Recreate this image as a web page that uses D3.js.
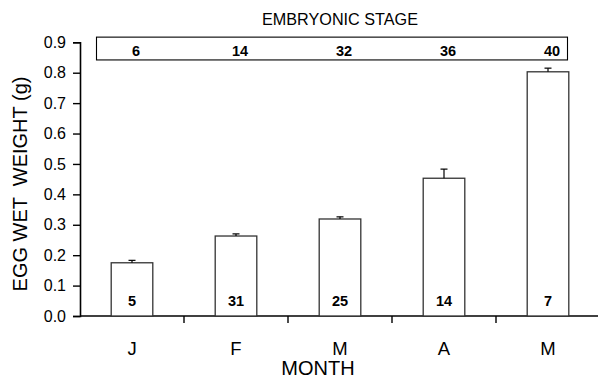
<!DOCTYPE html>
<html>
<head>
<meta charset="utf-8">
<script src="https://cdn.jsdelivr.net/npm/d3@7"></script>
<style>
  html, body { margin: 0; padding: 0; background: #fff; }
  svg { display: block; font-family: Arial, "Liberation Sans", sans-serif; }
</style>
</head>
<body>
<svg id="chart" width="598" height="380"></svg>
<script>
// Egg wet weight by month (mean + SE), sample sizes and embryonic stage
const months = ["J", "F", "M", "A", "M"];
const monthKeys = ["Jan", "Feb", "Mar", "Apr", "May"];
const meanWeight = [0.175, 0.263, 0.319, 0.453, 0.803];
const errUpper = [0.183, 0.270, 0.326, 0.483, 0.815];
const sampleSize = [5, 31, 25, 14, 7];
const embryonicStage = [6, 14, 32, 36, 40];
const yTicks = [0.0, 0.1, 0.2, 0.3, 0.4, 0.5, 0.6, 0.7, 0.8, 0.9];

const svg = d3.select("#chart");

const x = d3.scaleBand().domain(monthKeys).range([80, 600]).paddingInner(0).paddingOuter(0);
const y = d3.scaleLinear().domain([0, 0.9]).range([316, 42.3]);
const barW = x.bandwidth() * 0.4;
const cx = d => x(d) + x.bandwidth() / 2;

// Y axis
const yAxis = svg.append("g")
  .attr("transform", "translate(80,0)")
  .call(d3.axisLeft(y).tickValues(yTicks).tickFormat(d3.format(".1f")).tickSizeOuter(0).tickSize(7).tickPadding(7));
yAxis.select(".domain").attr("stroke", "#000").attr("stroke-width", 1.6);
yAxis.selectAll(".tick line").attr("stroke", "#000").attr("stroke-width", 1.4);
yAxis.selectAll(".tick text").attr("font-size", 16).attr("fill", "#000")
  .attr("font-family", "Arial, 'Liberation Sans', sans-serif");

// X axis: boundary ticks between months, labels at band centres
const xAxisG = svg.append("g").attr("transform", "translate(0,316)");
xAxisG.append("line").attr("x1", 80).attr("x2", 598).attr("y1", 0).attr("y2", 0)
  .attr("stroke", "#000").attr("stroke-width", 1.6);
xAxisG.selectAll("line.bound")
  .data(monthKeys.slice(1))
  .join("line")
  .attr("class", "bound")
  .attr("x1", d => x(d)).attr("x2", d => x(d))
  .attr("y1", 0).attr("y2", 7)
  .attr("stroke", "#000").attr("stroke-width", 1.4);
xAxisG.selectAll("text.month")
  .data(monthKeys)
  .join("text")
  .attr("class", "month")
  .attr("x", cx)
  .attr("y", 39)
  .attr("text-anchor", "middle")
  .attr("font-size", 18.5)
  .text((d, i) => months[i]);

// Bars
svg.selectAll("rect.bar")
  .data(monthKeys)
  .join("rect")
  .attr("class", "bar")
  .attr("x", d => x(d) + (x.bandwidth() - barW) / 2)
  .attr("width", barW)
  .attr("y", (d, i) => y(meanWeight[i]))
  .attr("height", (d, i) => y(0) - y(meanWeight[i]))
  .attr("fill", "#fff")
  .attr("stroke", "#333")
  .attr("stroke-width", 1.3);

// Error bars (upper whisker)
const eb = svg.selectAll("g.err").data(monthKeys).join("g").attr("class", "err");
eb.append("line")
  .attr("x1", cx).attr("x2", cx)
  .attr("y1", (d, i) => y(meanWeight[i])).attr("y2", (d, i) => y(errUpper[i]))
  .attr("stroke", "#000").attr("stroke-width", 1.2);
eb.append("line")
  .attr("x1", d => cx(d) - 3.5).attr("x2", d => cx(d) + 3.5)
  .attr("y1", (d, i) => y(errUpper[i])).attr("y2", (d, i) => y(errUpper[i]))
  .attr("stroke", "#000").attr("stroke-width", 1.2);

// Sample sizes inside bars
svg.selectAll("text.n")
  .data(monthKeys)
  .join("text")
  .attr("class", "n")
  .attr("x", cx)
  .attr("y", 305.5)
  .attr("text-anchor", "middle")
  .attr("font-size", 14.5)
  .attr("font-weight", "bold")
  .text((d, i) => sampleSize[i]);

// Embryonic stage band
svg.append("rect")
  .attr("x", 96.5).attr("y", y(0.917))
  .attr("width", 567.5 - 96.5).attr("height", y(0.842) - y(0.917))
  .attr("fill", "none").attr("stroke", "#000").attr("stroke-width", 1.1);
svg.selectAll("text.stage")
  .data(monthKeys)
  .join("text")
  .attr("class", "stage")
  .attr("x", d => cx(d) + 4)
  .attr("y", 56)
  .attr("text-anchor", "middle")
  .attr("font-size", 14.5)
  .attr("font-weight", "bold")
  .text((d, i) => embryonicStage[i]);
svg.append("text")
  .attr("x", 340).attr("y", 25)
  .attr("text-anchor", "middle")
  .attr("font-size", 16.2)
  .text("EMBRYONIC STAGE");

// Axis titles
svg.append("text")
  .attr("x", 318).attr("y", 375)
  .attr("text-anchor", "middle")
  .attr("font-size", 20)
  .text("MONTH");
svg.append("text")
  .attr("transform", "translate(27,184) rotate(-90)")
  .attr("text-anchor", "middle")
  .attr("font-size", 20)
  .style("white-space", "pre")
  .text("EGG WET  WEIGHT (g)");
</script>
</body>
</html>
